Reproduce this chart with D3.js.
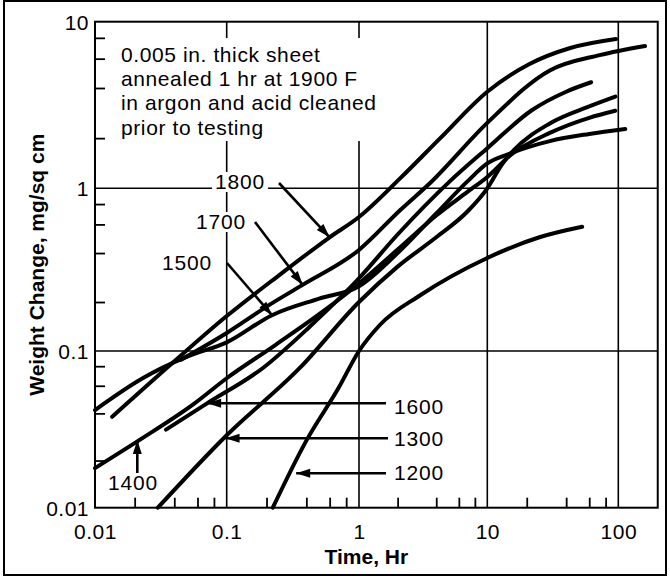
<!DOCTYPE html>
<html><head><meta charset="utf-8">
<script src="https://cdn.jsdelivr.net/npm/d3@7"></script>
<style>body{margin:0;background:#fff} svg{display:block}</style>
</head><body>
<script>
// ---- data ----
const xTickValues = [0.01, 0.1, 1, 10, 100];
const xTickLabels = ["0.01", "0.1", "1", "10", "100"];
const yTickValues = [0.01, 0.1, 1, 10];
const yTickLabels = ["0.01", "0.1", "1", "10"];
const xMinorTicks = [0.02,0.04,0.06,0.08,0.2,0.4,0.6,0.8,2,4,6,8,20,40,60,80];
const yMinorTicks = [0.02,0.04,0.06,0.08,0.2,0.4,0.6,0.8,2,4,6,8];
const xGrid = [0.1, 1, 10, 100];
const yGrid = [0.1, 1];
const seriesNames = ["1800","1700","1600","1500","1400","1300","1200"];
const s1800 = [[0.0135,0.038],[0.037,0.081],[0.1,0.164],[0.25,0.293],[0.6,0.5],[1,0.666],[2.1,1.15],[4.3,2.0],[10,3.8],[21,5.57],[43,6.95],[96,7.87]];
const s1700 = [[0.045,0.088],[0.1,0.129],[0.21,0.192],[0.375,0.255],[1,0.418],[2.1,0.736],[3.6,1.08],[10,2.47],[30,5.1],[72,6.3],[160,7.15]];
const s1600 = [[0.0346,0.0315],[0.07,0.046],[0.19,0.0785],[0.42,0.14],[1,0.28],[2,0.52],[5.1,1.1],[10,1.74],[22,2.95],[40,3.8],[62,4.33]];
const s1500 = [[0.01,0.042],[0.023,0.067],[0.05,0.092],[0.1,0.113],[0.22,0.166],[0.5,0.21],[1,0.25],[2,0.4],[4,0.7],[7,1.1],[10,1.41],[15,1.62],[30,1.92],[60,2.12],[113,2.27]];
const s1400 = [[0.01,0.0179],[0.0214,0.0268],[0.056,0.0458],[0.1,0.067],[0.23,0.108],[0.56,0.18],[1,0.26],[2,0.42],[4,0.68],[7,0.95],[10,1.17],[15,1.58],[30,2.15],[60,2.65],[95,2.92]];
const s1300 = [[0.03,0.01],[0.1,0.029],[0.36,0.0785],[1,0.2],[2,0.33],[4,0.5],[7,0.72],[10,1.0],[13,1.4],[16,1.7],[30,2.45],[60,3.1],[95,3.55]];
const s1200 = [[0.223,0.01],[0.4,0.0268],[0.7,0.058],[1,0.1],[1.46,0.145],[3,0.22],[10,0.373],[25,0.5],[53,0.58]];
const annotationLines = ["0.005 in. thick sheet","annealed 1 hr at 1900 F","in argon and acid cleaned","prior to testing"];
const xTitle = "Time, Hr";
const yTitle = "Weight Change, mg/sq cm";

// ---- layout ----
const W = 670, H = 576;
const xMaxEdge = 200;
const svg = d3.select("body").append("svg").attr("width", W).attr("height", H)
  .style("font-family", "'Liberation Sans', Arial, Helvetica, sans-serif");

const x = d3.scaleLog().domain([0.01, 0.1, 1, 10, 100]).range([95, 226.7, 359, 487.3, 618.3]);
const y = d3.scaleLog().domain([0.01, 0.1, 1, 10]).range([507.7, 351, 188.3, 21.7]);
const pL = x(0.01), pR = x(xMaxEdge), pT = y(10), pB = y(0.01);

// outer frame
svg.append("rect").attr("x", 4).attr("y", 1).attr("width", W - 8).attr("height", H - 2)
  .attr("fill", "none").attr("stroke", "#000").attr("stroke-width", 2);

// grid
const g = svg.append("g");
g.selectAll(".vg").data(xGrid).join("line")
  .attr("x1", d => x(d)).attr("x2", d => x(d)).attr("y1", pT).attr("y2", pB)
  .attr("stroke", "#000").attr("stroke-width", 1.6);
g.selectAll(".hg").data(yGrid).join("line")
  .attr("y1", d => y(d)).attr("y2", d => y(d)).attr("x1", pL).attr("x2", pR)
  .attr("stroke", "#000").attr("stroke-width", 1.6);

// plot frame
svg.append("rect").attr("x", pL).attr("y", pT).attr("width", pR - pL).attr("height", pB - pT)
  .attr("fill", "none").attr("stroke", "#000").attr("stroke-width", 2);

// minor ticks via axes
const xMinorAxis = d3.axisBottom(x).tickValues(xMinorTicks).tickSize(-10).tickFormat("");
svg.append("g").attr("transform", `translate(0,${pB})`).call(xMinorAxis)
  .call(a => a.select(".domain").remove())
  .selectAll("line").attr("stroke-width", 1.8);
const yMinorAxis = d3.axisLeft(y).tickValues(yMinorTicks).tickSize(-10).tickFormat("");
svg.append("g").attr("transform", `translate(${pL},0)`).call(yMinorAxis)
  .call(a => a.select(".domain").remove())
  .selectAll("line").attr("stroke-width", 1.8);

// tick labels via axes
const xAxis = d3.axisBottom(x).tickValues(xTickValues).tickFormat((d, i) => xTickLabels[i]).tickSize(0);
svg.append("g").attr("transform", `translate(0,${pB})`).call(xAxis)
  .call(a => a.select(".domain").remove())
  .selectAll("text").attr("y", 31).attr("dy", 0)
  .attr("font-size", 21).attr("letter-spacing", 0.5).attr("font-family", "'Liberation Sans', Arial, sans-serif").attr("fill", "#000");
const yAxis = d3.axisLeft(y).tickValues(yTickValues).tickFormat((d, i) => yTickLabels[i]).tickSize(0);
svg.append("g").attr("transform", `translate(${pL},0)`).call(yAxis)
  .call(a => a.select(".domain").remove())
  .selectAll("text").attr("x", -6).attr("dy", "0.36em")
  .attr("font-size", 21).attr("letter-spacing", 0.5).attr("font-family", "'Liberation Sans', Arial, sans-serif").attr("fill", "#000");

// axis titles
svg.append("text").attr("x", (pL + pR) / 2 - 10).attr("y", 564).attr("text-anchor", "middle")
  .attr("font-size", 21).attr("font-weight", "bold").text(xTitle);
svg.append("text").attr("transform", `translate(44,${(pT + pB) / 2}) rotate(-90)`)
  .attr("text-anchor", "middle").attr("font-size", 21).attr("font-weight", "bold").text(yTitle);

// annotation block (white background interrupts gridline)
svg.append("rect").attr("x", 116).attr("y", 38).attr("width", 272).attr("height", 103).attr("fill", "#fff");
svg.append("g").selectAll("text").data(annotationLines).join("text")
  .attr("x", 121).attr("y", (d, i) => 62 + i * 24.2)
  .attr("font-size", 21).attr("letter-spacing", 0.6).text(d => d);

// curves
const series = [s1800, s1700, s1600, s1500, s1400, s1300, s1200];
const line = d3.line().x(d => x(d[0])).y(d => y(d[1])).curve(d3.curveMonotoneX);
svg.append("g").selectAll("path").data(series).join("path")
  .attr("d", line).attr("fill", "none").attr("stroke", "#000")
  .attr("stroke-width", 4).attr("stroke-linecap", "round");

const lab = svg.append("g");
function arrow(x1, y1, x2, y2) {
  lab.append("line").attr("x1", x1).attr("y1", y1).attr("x2", x2).attr("y2", y2)
    .attr("stroke", "#000").attr("stroke-width", 2.6);
  const ang = Math.atan2(y2 - y1, x2 - x1), L = 14, Wd = 4.5;
  const bx = x2 - L * Math.cos(ang), by = y2 - L * Math.sin(ang);
  const px = -Math.sin(ang) * Wd, py = Math.cos(ang) * Wd;
  lab.append("path").attr("d", `M${x2},${y2}L${bx + px},${by + py}L${bx - px},${by - py}Z`).attr("fill", "#000");
}
function label(txt, lx, ly) {
  const bg = lab.append("rect").attr("fill", "#fff");
  const t = lab.append("text").attr("x", lx).attr("y", ly)
    .attr("font-size", 21).attr("letter-spacing", 0.8).text(txt);
  const b = t.node().getBBox();
  bg.attr("x", b.x - 3).attr("y", b.y + 2).attr("width", b.width + 6).attr("height", b.height - 3);
}
label("1800", 215, 189); arrow(279, 183, x(0.6), y(0.5));
label("1700", 196, 229); arrow(255, 222, x(0.375), y(0.255));
label("1500", 162, 270); arrow(227, 263, x(0.22), y(0.166));
label("1600", 394, 414); arrow(386, 403.3, x(0.071), 403.3);
label("1300", 394, 446); arrow(388, 438.3, x(0.098), 438.3);
label("1200", 394, 480); arrow(386, 473.3, x(0.335), 473.3);
label("1400", 108, 490); arrow(137.3, 473, 137.3, y(0.027));
</script>
</body></html>
